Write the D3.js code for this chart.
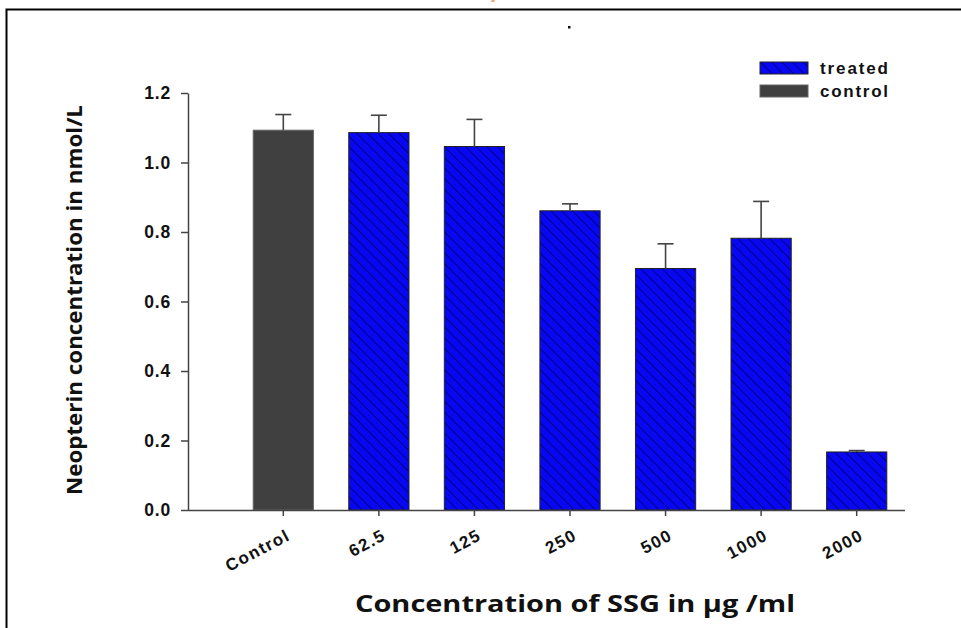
<!DOCTYPE html>
<html>
<head>
<meta charset="utf-8">
<script src="https://cdn.jsdelivr.net/npm/d3@7.9.0/dist/d3.min.js"></script>
<style>
  html, body { margin: 0; padding: 0; background: #fff; }
  svg { display: block; }
  .tick text { font-family: "Liberation Sans", Arial, sans-serif; font-weight: bold; }
</style>
</head>
<body>
<svg id="chart" width="961" height="628"></svg>
<script>
// data
const categories = ["Control", "62.5", "125", "250", "500", "1000", "2000"];
const groups = ["control", "treated", "treated", "treated", "treated", "treated", "treated"];
const means = [1.093, 1.086, 1.046, 0.861, 0.695, 0.782, 0.167];
const errors = [0.045, 0.050, 0.078, 0.020, 0.071, 0.106, 0.004];
const yTicks = [0.0, 0.2, 0.4, 0.6, 0.8, 1.0, 1.2];
const legendItems = ["treated", "control"];

const svg = d3.select("#chart");

// frame around the figure (top and left edge only visible)
svg.append("path")
  .attr("d", "M6.5,628V9.5H961")
  .attr("fill", "none")
  .attr("stroke", "#000")
  .attr("stroke-width", 2);

// stray marks in the source image
svg.append("rect").attr("x", 568).attr("y", 26).attr("width", 2.5).attr("height", 2.5).attr("fill", "#111");
svg.append("rect").attr("x", 491.5).attr("y", 0).attr("width", 3).attr("height", 2).attr("fill", "#f4a070");

// hatch pattern for treated bars
const defs = svg.append("defs");
const pat = defs.append("pattern")
  .attr("id", "hatch")
  .attr("patternUnits", "userSpaceOnUse")
  .attr("width", 7.5).attr("height", 7.5)
  .attr("patternTransform", "rotate(-45)");
pat.append("rect").attr("width", 7.5).attr("height", 7.5).attr("fill", "#0707f2");
pat.append("line").attr("x1", 0).attr("y1", 0).attr("x2", 0).attr("y2", 7.5)
  .attr("stroke", "#000050").attr("stroke-width", 1.4);

const fills = { treated: "url(#hatch)", control: "#404040" };

const y = d3.scaleLinear().domain([0, 1.2]).range([510, 93]);
const x = d3.scaleBand().domain(categories).range([236, 904]).paddingInner(0.37).paddingOuter(0.18);

const axisColor = "#444";

// y axis
const yAxis = svg.append("g")
  .attr("transform", "translate(188,0)")
  .call(d3.axisLeft(y).tickValues(yTicks).tickFormat(d => d.toFixed(1)).tickSize(7).tickSizeOuter(0));
yAxis.select(".domain").attr("stroke", axisColor).attr("stroke-width", 1.5);
yAxis.selectAll(".tick line").attr("stroke", axisColor).attr("stroke-width", 1.5);
yAxis.selectAll(".tick text")
  .attr("font-size", 17.5)
  .attr("letter-spacing", 0.8)
  .attr("fill", "#111")
  .attr("x", -17);

// bars
svg.append("g").selectAll("rect")
  .data(categories)
  .join("rect")
  .attr("x", d => x(d))
  .attr("y", (d, i) => y(means[i]))
  .attr("width", x.bandwidth())
  .attr("height", (d, i) => y(0) - y(means[i]))
  .attr("fill", (d, i) => fills[groups[i]])
  .attr("stroke", (d, i) => groups[i] === "control" ? "#666" : "#222")
  .attr("stroke-width", 1);

// error bars (upper only)
const eb = svg.append("g").attr("stroke", "#444").attr("stroke-width", 1.6);
categories.forEach((c, i) => {
  const cx = x(c) + x.bandwidth() / 2;
  eb.append("line").attr("x1", cx).attr("x2", cx).attr("y1", y(means[i])).attr("y2", y(means[i] + errors[i]));
  eb.append("line").attr("x1", cx - 8).attr("x2", cx + 8).attr("y1", y(means[i] + errors[i])).attr("y2", y(means[i] + errors[i]));
});

// x axis
svg.append("line").attr("x1", 188).attr("x2", 905).attr("y1", 510.5).attr("y2", 510.5)
  .attr("stroke", axisColor).attr("stroke-width", 1.5);
const xAxis = svg.append("g")
  .attr("transform", "translate(0,510)")
  .call(d3.axisBottom(x).tickSize(6).tickSizeOuter(0));
xAxis.select(".domain").remove();
xAxis.selectAll(".tick line").attr("stroke", axisColor).attr("stroke-width", 1.5);
xAxis.selectAll(".tick text")
  .attr("font-size", 17)
  .attr("letter-spacing", 1.4)
  .attr("fill", "#111")
  .attr("text-anchor", "end")
  .attr("dy", null)
  .attr("y", 0)
  .attr("x", 0)
  .attr("transform", "translate(8,29) rotate(-28)");

// axis titles
svg.append("text")
  .attr("transform", "translate(82,300) rotate(-90)")
  .attr("text-anchor", "middle")
  .attr("font-family", "'Open Sans', sans-serif")
  .attr("font-weight", 700)
  .attr("font-size", 22)
  .attr("textLength", 390)
  .attr("lengthAdjust", "spacingAndGlyphs")
  .attr("fill", "#111")
  .text("Neopterin concentration in nmol/L");

svg.append("text")
  .attr("x", 575).attr("y", 612)
  .attr("text-anchor", "middle")
  .attr("font-family", "'Open Sans', sans-serif")
  .attr("font-weight", 700)
  .attr("font-size", 23)
  .attr("textLength", 440)
  .attr("lengthAdjust", "spacingAndGlyphs")
  .attr("fill", "#111")
  .text("Concentration of SSG in μg /ml");

// legend
const legend = svg.append("g").attr("transform", "translate(760,62)");
legendItems.forEach((name, i) => {
  const g = legend.append("g").attr("transform", `translate(0,${i * 23})`);
  g.append("rect").attr("width", 48).attr("height", 12)
    .attr("fill", fills[name])
    .attr("stroke", name === "control" ? "#666" : "#222")
    .attr("stroke-width", 1);
  g.append("text").attr("x", 60).attr("y", 12)
    .attr("font-family", "'Liberation Sans', Arial, sans-serif")
    .attr("font-weight", "bold")
    .attr("font-size", 17)
    .attr("textLength", 68)
    .attr("lengthAdjust", "spacing")
    .attr("fill", "#111")
    .text(name);
});
</script>
</body>
</html>
